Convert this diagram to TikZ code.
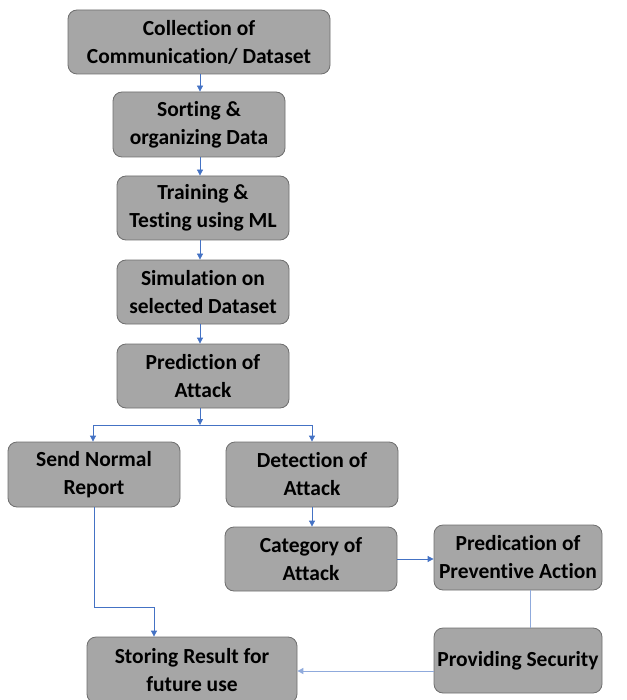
\documentclass[tikz,border=0pt]{standalone}
\usepackage{fontspec}
\setmainfont{Carlito}[Ligatures=NoCommon]
\usetikzlibrary{arrows.meta}
\definecolor{boxfill}{RGB}{166,166,166}
\definecolor{boxline}{RGB}{110,110,110}
\definecolor{arrblue}{RGB}{68,114,196}
\definecolor{lineblue}{RGB}{143,170,220}
\begin{document}
\begin{tikzpicture}[x=1pt,y=-1pt,
  box/.style={draw=boxline,line width=0.8pt,fill=boxfill,rounded corners=9pt,
    align=center,inner sep=0pt,font=\bfseries\fontsize{21.5}{28}\selectfont},
  conn/.style={draw=arrblue,line width=0.8pt,-{Triangle[length=6pt,width=6pt]}},
  lconn/.style={draw=lineblue,line width=1pt,-{Triangle[length=6pt,width=6pt]}},
  plain/.style={draw=lineblue,line width=1pt}]
\useasboundingbox (0,0) rectangle (626,700);
\node[box,minimum width=262pt,minimum height=64pt] (b1) at (199,42) {Collection of\\Communication/ Dataset};
\node[box,minimum width=172pt,minimum height=65pt] (b2) at (199,124.5) {Sorting \&\\organizing Data};
\node[box,minimum width=172pt,minimum height=64pt] (b3) at (203,208) {Training \&\\Testing using ML};
\node[box,minimum width=172pt,minimum height=64pt] (b4) at (203,292) {Simulation on\\selected Dataset};
\node[box,minimum width=172pt,minimum height=64pt] (b5) at (203,376) {Prediction of\\Attack};
\node[box,minimum width=172pt,minimum height=65pt] (b6) at (94,474.5) {Send Normal\\Report};
\node[box,minimum width=172pt,minimum height=65pt] (b7) at (312,474.5) {Detection of\\Attack};
\node[box,minimum width=172pt,minimum height=64pt] (b8) at (311,559) {Category of\\Attack};
\node[box,minimum width=168pt,minimum height=65pt] (b9) at (518,557.5) {Predication of\\Preventive Action};
\node[box,minimum width=168pt,minimum height=65pt] (b10) at (518,660.5) {Providing Security};
\node[box,minimum width=210pt,minimum height=66pt] (b11) at (192,670) {Storing Result for\\future use};
\coordinate (split) at (200,425);
\draw[conn] (b1.south -| 200,0) -- (b2.north -| 200,0);
\draw[conn] (b2.south -| 200,0) -- (b3.north -| 200,0);
\draw[conn] (b3.south -| 200,0) -- (b4.north -| 200,0);
\draw[conn] (b4.south -| 200,0) -- (b5.north -| 200,0);
\draw[conn] (b5.south -| split) -- (split);
\draw[draw=arrblue,line width=0.8pt] (split) -- (93,425) (split) -- (312,425);
\draw[conn] (93,425) -- (b6.north -| 93,0);
\draw[conn] (312,425) -- (b7.north -| 312,0);
\draw[conn] (b7.south -| 312,0) -- (b8.north -| 312,0);
\draw[conn] (b8.east |- 0,559) -- (b9.west |- 0,559);
\draw[plain] (b9.south -| 530,0) -- (b10.north -| 530,0);
\draw[lconn] (b10.west |- 0,671) -- (b11.east |- 0,671);
\draw[conn] (b6.south -| 94,0) -- (94,607) -- (154,607) -- (b11.north -| 154,0);
\end{tikzpicture}
\end{document}
